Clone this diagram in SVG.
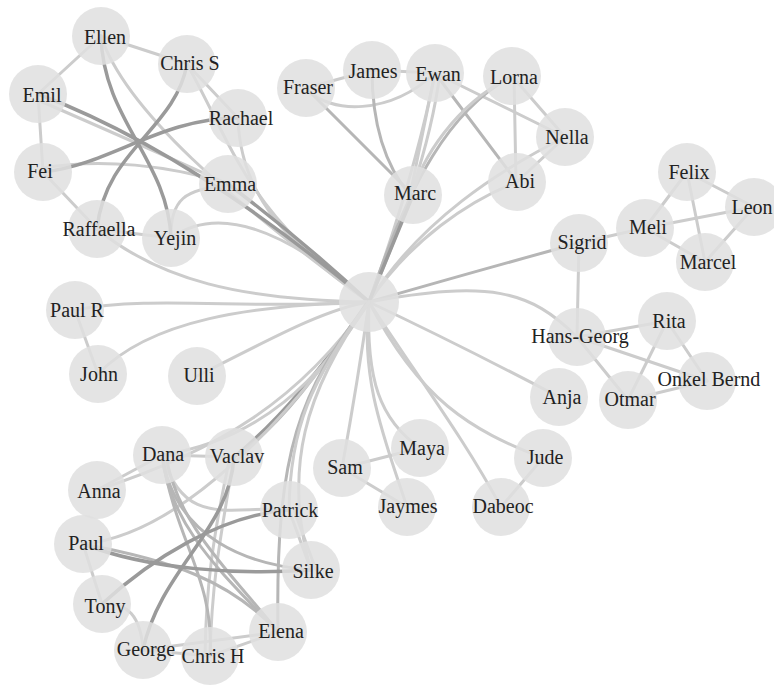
<svg xmlns="http://www.w3.org/2000/svg" width="774" height="686" viewBox="0 0 774 686">
  <style>
    .bg { fill: #ffffff; }
    .links path { fill: none; stroke-linecap: round; }
    .l { stroke: #cccccc; stroke-width: 3; }
    .m { stroke: #b6b6b6; stroke-width: 3; }
    .d { stroke: #9a9a9a; stroke-width: 3.5; }
    .node circle { fill: #e0e0e0; fill-opacity: 0.86; }
    .node text { font-family: "Liberation Serif", "Times New Roman", "DejaVu Serif", serif; font-size: 20px; fill: #222222; text-anchor: middle; }
  </style>
  <rect class="bg" width="774" height="686"/>

  <g class="links" id="links">
    <!-- upper-left group -->
    <path class="l" d="M101,36 L187,64"/>
    <path class="l" d="M101,36 L38,94"/>
    <path class="l" d="M38,94 L43,172"/>
    <path class="l" d="M43,172 L97,229"/>
    <path class="l" d="M97,229 L171,238"/>
    <path class="l" d="M187,64 L238,118"/>
    <path class="l" d="M38,100 Q130,140 228,184"/>
    <path class="l" d="M43,168 C100,158 170,165 228,184"/>
    <path class="l" d="M101,36 C125,110 230,200 369,302"/>
    <path class="l" d="M187,64 C235,150 245,210 369,302"/>
    <path class="l" d="M238,118 C240,190 280,240 369,302"/>
    <path class="l" d="M171,238 C170,200 185,188 228,186"/>
    <path class="l" d="M171,238 C210,210 270,215 369,302"/>
    <path class="d" d="M38,94 Q192,152 369,302"/>
    <path class="d" d="M228,184 Q300,238 369,302"/>
    <path class="d" d="M101,36 C103,120 168,160 171,238"/>
    <path class="d" d="M187,64 C175,130 105,150 97,229"/>
    <path class="d" d="M238,118 C160,118 110,165 43,172"/>

    <!-- left spokes -->
    <path class="l" d="M97,229 C160,280 240,300 369,302"/>
    <path class="l" d="M75,310 C150,295 250,310 369,302"/>
    <path class="l" d="M98,374 C150,320 250,305 369,302"/>
    <path class="l" d="M75,310 L98,374"/>
    <path class="l" d="M197,376 C260,345 320,310 369,302"/>

    <!-- upper-middle group -->
    <path class="l" d="M306,88 L372,70"/>
    <path class="l" d="M372,70 L435,73"/>
    <path class="l" d="M306,88 C330,115 390,115 435,73"/>
    <path class="m" d="M306,88 L413,195"/>
    <path class="m" d="M372,70 Q372,150 410,195"/>
    <path class="l" d="M435,73 L410,195"/>
    <path class="l" d="M440,73 C430,150 400,230 369,302"/>
    <path class="l" d="M435,73 C420,150 395,230 369,302"/>
    <path class="l" d="M435,73 L565,137"/>
    <path class="m" d="M435,73 L517,182"/>
    <path class="l" d="M512,76 L565,137"/>
    <path class="l" d="M514,76 L516,182"/>
    <path class="m" d="M512,76 C450,110 410,180 369,302"/>
    <path class="l" d="M512,76 C455,105 420,160 413,195"/>
    <path class="l" d="M565,137 C500,170 420,220 369,302"/>
    <path class="l" d="M517,182 C470,200 410,240 369,302"/>
    <path class="l" d="M565,137 L517,182"/>
    <path class="d" d="M413,195 L369,302"/>

    <!-- right group -->
    <path class="m" d="M579,243 Q480,270 369,302"/>
    <path class="l" d="M577,337 C530,290 490,280 369,302"/>
    <path class="l" d="M579,243 L577,337"/>
    <path class="l" d="M579,243 L645,228"/>
    <path class="l" d="M645,228 L687,172"/>
    <path class="l" d="M645,228 L754,207"/>
    <path class="l" d="M645,228 L705,262"/>
    <path class="l" d="M687,172 L754,207"/>
    <path class="l" d="M687,172 L705,262"/>
    <path class="l" d="M754,207 L705,262"/>
    <path class="l" d="M577,337 L667,321"/>
    <path class="l" d="M577,337 L707,381"/>
    <path class="l" d="M577,337 L628,400"/>
    <path class="l" d="M667,321 L628,400"/>
    <path class="l" d="M667,321 L707,381"/>
    <path class="l" d="M628,400 L707,381"/>
    <path class="l" d="M369,302 Q460,345 559,397"/>

    <!-- lower-middle spokes -->
    <path class="l" d="M369,302 Q358,380 342,468"/>
    <path class="l" d="M369,302 C360,380 385,440 407,507"/>
    <path class="l" d="M369,302 C366,380 380,420 420,448"/>
    <path class="l" d="M369,302 C420,380 465,440 501,507"/>
    <path class="l" d="M369,302 C420,400 470,430 543,458"/>
    <path class="l" d="M342,468 L420,448"/>
    <path class="l" d="M342,468 L407,507"/>
    <path class="l" d="M543,458 L501,507"/>

    <!-- lower-left group -->
    <path class="d" d="M369,302 C320,370 280,420 234,457"/>
    <path class="m" d="M366,304 C318,374 282,424 238,455"/>
    <path class="l" d="M369,302 C320,380 260,440 162,455"/>
    <path class="l" d="M369,302 C300,400 220,450 97,490"/>
    <path class="l" d="M83,544 C180,535 290,420 369,302"/>
    <path class="m" d="M369,302 C300,390 275,450 278,632"/>
    <path class="l" d="M369,302 C305,390 282,470 311,570"/>
    <path class="l" d="M369,302 C310,380 290,430 289,510"/>
    <path class="l" d="M162,455 L234,457"/>
    <path class="l" d="M162,455 L97,490"/>
    <path class="l" d="M289,510 L311,570"/>
    <path class="l" d="M294,510 L316,570"/>
    <path class="l" d="M83,544 L102,604"/>
    <path class="l" d="M102,604 Q140,600 143,650"/>
    <path class="l" d="M143,650 L210,656"/>
    <path class="l" d="M143,650 L278,632"/>
    <path class="l" d="M210,656 L278,632"/>
    <path class="l" d="M162,455 C185,530 230,505 289,510"/>
    <path class="l" d="M234,457 C220,540 212,580 210,656"/>
    <path class="l" d="M230,457 C212,540 206,590 205,656"/>
    <path class="m" d="M162,455 C170,530 230,580 278,632"/>
    <path class="m" d="M166,455 C176,525 236,578 278,632"/>
    <path class="m" d="M162,455 C175,540 215,580 210,656"/>
    <path class="m" d="M162,455 C175,540 250,565 311,570"/>
    <path class="m" d="M83,544 C170,560 230,580 278,632"/>
    <path class="d" d="M234,457 C230,530 160,570 143,650"/>
    <path class="d" d="M289,510 C220,515 150,560 102,604"/>
    <path class="d" d="M83,544 C150,570 240,575 311,570"/>
  </g>

  <g class="node" id="n-hub"><circle cx="369" cy="302" r="30"/></g>
  <g class="node" id="n-ellen"><circle cx="101" cy="36" r="29"/><text x="105" y="44">Ellen</text></g>
  <g class="node" id="n-chris-s"><circle cx="187" cy="64" r="29"/><text x="190" y="70">Chris S</text></g>
  <g class="node" id="n-emil"><circle cx="38" cy="94" r="29"/><text x="42" y="102">Emil</text></g>
  <g class="node" id="n-rachael"><circle cx="238" cy="118" r="29"/><text x="241" y="125">Rachael</text></g>
  <g class="node" id="n-fei"><circle cx="43" cy="172" r="29"/><text x="40" y="178">Fei</text></g>
  <g class="node" id="n-emma"><circle cx="228" cy="184" r="29"/><text x="230" y="191">Emma</text></g>
  <g class="node" id="n-raffaella"><circle cx="97" cy="229" r="29"/><text x="99" y="236">Raffaella</text></g>
  <g class="node" id="n-yejin"><circle cx="171" cy="238" r="29"/><text x="175" y="245">Yejin</text></g>
  <g class="node" id="n-fraser"><circle cx="306" cy="88" r="29"/><text x="308" y="94">Fraser</text></g>
  <g class="node" id="n-james"><circle cx="372" cy="70" r="29"/><text x="373" y="78">James</text></g>
  <g class="node" id="n-ewan"><circle cx="435" cy="73" r="29"/><text x="438" y="81">Ewan</text></g>
  <g class="node" id="n-lorna"><circle cx="512" cy="76" r="29"/><text x="514" y="84">Lorna</text></g>
  <g class="node" id="n-nella"><circle cx="565" cy="137" r="29"/><text x="567" y="144">Nella</text></g>
  <g class="node" id="n-abi"><circle cx="517" cy="182" r="29"/><text x="520" y="188">Abi</text></g>
  <g class="node" id="n-marc"><circle cx="413" cy="195" r="29"/><text x="415" y="200">Marc</text></g>
  <g class="node" id="n-sigrid"><circle cx="579" cy="243" r="29"/><text x="582" y="249">Sigrid</text></g>
  <g class="node" id="n-meli"><circle cx="645" cy="228" r="29"/><text x="648" y="234">Meli</text></g>
  <g class="node" id="n-felix"><circle cx="687" cy="172" r="29"/><text x="689" y="179">Felix</text></g>
  <g class="node" id="n-leon"><circle cx="754" cy="207" r="29"/><text x="752" y="214">Leon</text></g>
  <g class="node" id="n-marcel"><circle cx="705" cy="262" r="29"/><text x="708" y="269">Marcel</text></g>
  <g class="node" id="n-hans-georg"><circle cx="577" cy="337" r="29"/><text x="580" y="343">Hans-Georg</text></g>
  <g class="node" id="n-rita"><circle cx="667" cy="321" r="29"/><text x="669" y="328">Rita</text></g>
  <g class="node" id="n-onkel-bernd"><circle cx="707" cy="381" r="29"/><text x="709" y="386">Onkel Bernd</text></g>
  <g class="node" id="n-otmar"><circle cx="628" cy="400" r="29"/><text x="630" y="406">Otmar</text></g>
  <g class="node" id="n-anja"><circle cx="559" cy="397" r="29"/><text x="562" y="404">Anja</text></g>
  <g class="node" id="n-jude"><circle cx="543" cy="458" r="29"/><text x="545" y="464">Jude</text></g>
  <g class="node" id="n-dabeoc"><circle cx="501" cy="507" r="29"/><text x="503" y="513">Dabeoc</text></g>
  <g class="node" id="n-maya"><circle cx="420" cy="448" r="29"/><text x="422" y="455">Maya</text></g>
  <g class="node" id="n-sam"><circle cx="342" cy="468" r="29"/><text x="345" y="474">Sam</text></g>
  <g class="node" id="n-jaymes"><circle cx="407" cy="507" r="29"/><text x="408" y="513">Jaymes</text></g>
  <g class="node" id="n-paul-r"><circle cx="75" cy="310" r="29"/><text x="77" y="317">Paul R</text></g>
  <g class="node" id="n-john"><circle cx="98" cy="374" r="29"/><text x="99" y="381">John</text></g>
  <g class="node" id="n-ulli"><circle cx="197" cy="376" r="29"/><text x="199" y="382">Ulli</text></g>
  <g class="node" id="n-dana"><circle cx="162" cy="455" r="29"/><text x="163" y="461">Dana</text></g>
  <g class="node" id="n-vaclav"><circle cx="234" cy="457" r="29"/><text x="237" y="463">Vaclav</text></g>
  <g class="node" id="n-anna"><circle cx="97" cy="490" r="29"/><text x="99" y="498">Anna</text></g>
  <g class="node" id="n-paul"><circle cx="83" cy="544" r="29"/><text x="86" y="550">Paul</text></g>
  <g class="node" id="n-patrick"><circle cx="289" cy="510" r="29"/><text x="290" y="517">Patrick</text></g>
  <g class="node" id="n-silke"><circle cx="311" cy="570" r="29"/><text x="313" y="578">Silke</text></g>
  <g class="node" id="n-tony"><circle cx="102" cy="604" r="29"/><text x="105" y="613">Tony</text></g>
  <g class="node" id="n-elena"><circle cx="278" cy="632" r="29"/><text x="281" y="638">Elena</text></g>
  <g class="node" id="n-george"><circle cx="143" cy="650" r="29"/><text x="146" y="656">George</text></g>
  <g class="node" id="n-chris-h"><circle cx="210" cy="656" r="29"/><text x="213" y="663">Chris H</text></g>
</svg>
